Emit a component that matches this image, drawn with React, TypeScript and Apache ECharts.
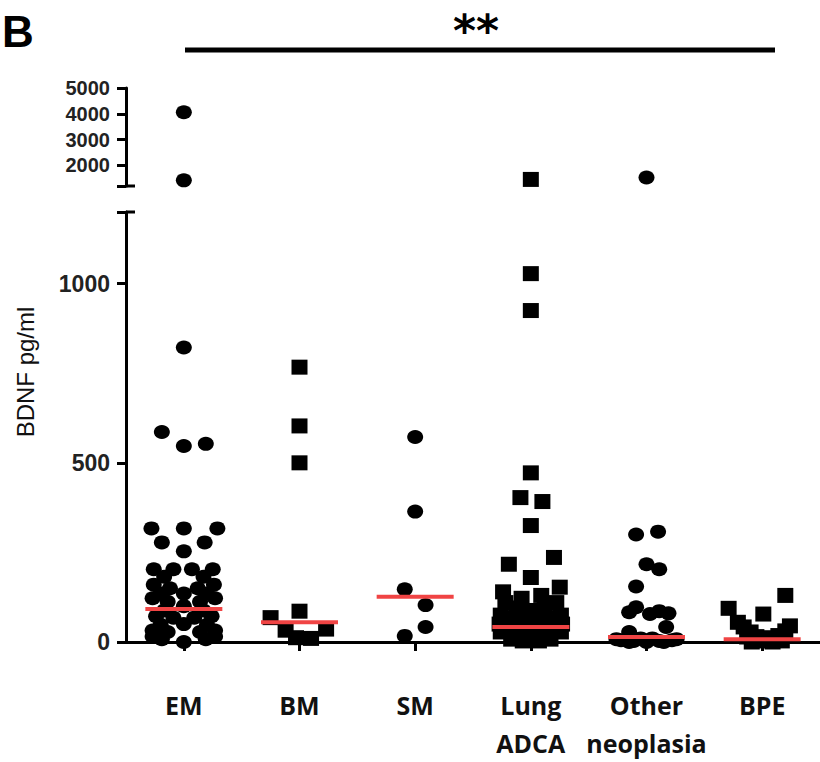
import React, { useEffect, useRef } from "react";
import * as echarts from "echarts";

// ---------- data ----------
const categories = ["EM", "BM", "SM", "Lung\nADCA", "Other\nneoplasia", "BPE"];
const groupSymbols = ["circle", "rect", "circle", "rect", "circle", "rect"];

// BDNF values (pg/ml) and horizontal jitter (fraction of a category width)
const emValues = [4060, 1420, 822, 586, 547, 553, 317, 317, 317, 278, 253, 278, 203, 203, 203, 203, 182, 182, 160, 150, 150, 160, 135, 135, 135, 122, 112, 100, 112, 122, 88, 88, 72, 68, 68, 72, 48, 48, 32, 28, 50, 28, 32, 15, 15, 8, 0, 8];
const emJitter = [0, 0, 0, -0.19, 0, 0.19, -0.28, 0, 0.29, -0.19, 0, 0.18, -0.26, -0.09, 0.07, 0.25, -0.17, 0.17, -0.26, -0.12, 0.12, 0.26, -0.2, 0, 0.2, -0.27, -0.14, 0, 0.14, 0.27, -0.17, 0.17, -0.24, -0.09, 0.09, 0.24, -0.2, 0.2, -0.27, -0.14, 0, 0.14, 0.27, -0.27, 0.27, -0.19, 0, 0.19];

const bmValues = [767, 603, 500, 86, 68, 33, 36, 12, 10];
const bmJitter = [0, 0, 0, 0, -0.25, -0.12, 0.23, -0.03, 0.1];

const smValues = [572, 364, 147, 103, 42, 17];
const smJitter = [0, 0, -0.09, 0.09, 0.09, -0.09];

const lungValues = [1455, 1028, 925, 472, 403, 392, 325, 217, 236, 180, 140, 122, 130, 153, 110, 110, 95, 95, 88, 75, 68, 62, 68, 75, 50, 45, 42, 42, 45, 50, 28, 22, 22, 28, 12, 8, 3, 3, 8];
const lungJitter = [0, 0, 0, 0, -0.09, 0.1, 0, -0.19, 0.2, 0, -0.24, -0.08, 0.09, 0.25, -0.22, 0.22, -0.12, 0.12, 0, -0.26, -0.13, 0, 0.13, 0.26, -0.27, -0.15, -0.05, 0.05, 0.15, 0.27, -0.26, -0.12, 0.12, 0.26, 0, -0.17, -0.07, 0.07, 0.17];

const otherValues = [1532, 300, 308, 217, 203, 155, 83, 97, 78, 86, 80, 42, 28, 5, 3, 2, 3, 5, 0, 0, 0, 8, 8, 10, 10];
const otherJitter = [0, -0.09, 0.1, 0, 0.11, -0.09, -0.15, -0.09, 0.03, 0.11, 0.19, 0.17, -0.15, -0.22, -0.11, 0, 0.11, 0.22, -0.15, 0, 0.15, -0.26, 0.26, -0.05, 0.05];

const bpeValues = [130, 94, 78, 55, 42, 28, 45, 31, 15, 12, 18, 14, 3, 0, 0, 3];
const bpeJitter = [0.2, -0.29, 0.01, -0.21, -0.16, -0.1, 0.24, 0.2, -0.05, 0.05, 0.14, -0.13, 0, -0.09, 0.09, 0.17];

const medians = [92, 55, 126, 42, 14, 8];

const upperTicks = [2000, 3000, 4000, 5000];
const lowerTicks = [0, 500, 1000];
const BREAK = 1200;
const TOP = 5000;

const groupValues = [emValues, bmValues, smValues, lungValues, otherValues, bpeValues];
const groupJitter = [emJitter, bmJitter, smJitter, lungJitter, otherJitter, bpeJitter];

// ---------- layout ----------
const LEFT = 126;
const WIDTH = 699;
const UP_TOP = 88;
const UP_BOTTOM = 186;
const LOW_TOP = 212;
const LOW_BOTTOM = 643;

export default function App() {
  const ref = useRef<HTMLDivElement>(null);
  useEffect(() => {
    if (!ref.current) return;
    const chart = echarts.init(ref.current, undefined, { renderer: "svg" });

    const series: any[] = [];
    groupValues.forEach((vals, g) => {
      const up: number[][] = [];
      const low: number[][] = [];
      vals.forEach((v, i) => {
        const pt = [g + groupJitter[g][i], v];
        if (v > BREAK) up.push(pt);
        else low.push(pt);
      });
      const sym = groupSymbols[g];
      const size = sym === "circle" ? [16, 14] : [16, 15];
      series.push({
        type: "scatter",
        xAxisIndex: 0,
        yAxisIndex: 0,
        data: up,
        symbol: sym,
        symbolSize: size,
        itemStyle: { color: "#000", opacity: 1 },
        clip: false,
        z: 3,
      });
      series.push({
        type: "scatter",
        xAxisIndex: 1,
        yAxisIndex: 1,
        data: low,
        symbol: sym,
        symbolSize: size,
        itemStyle: { color: "#000", opacity: 1 },
        clip: false,
        z: 3,
      });
    });
    series.push({
      type: "scatter",
      xAxisIndex: 1,
      yAxisIndex: 1,
      data: medians.map((m, i) => [i, m]),
      symbol: "rect",
      symbolSize: [77, 4],
      itemStyle: { color: "#f04444", opacity: 1 },
      clip: false,
      z: 5,
    });

    const axisLineStyle = { color: "#000", width: 3 };
    const plain = (v: number) => String(v);

    chart.setOption({
      animation: false,
      grid: [
        { left: LEFT, width: WIDTH, top: UP_TOP, height: UP_BOTTOM - UP_TOP },
        { left: LEFT, width: WIDTH, top: LOW_TOP, height: LOW_BOTTOM - LOW_TOP },
      ],
      xAxis: [
        { type: "value", gridIndex: 0, min: -0.5, max: 5.5, show: false, position: "bottom" },
        { type: "value", gridIndex: 1, min: -0.5, max: 5.5, show: false, position: "bottom" },
        {
          type: "category",
          gridIndex: 1,
          position: "bottom",
          data: categories,
          boundaryGap: true,
          axisLine: { show: true, onZero: false, lineStyle: axisLineStyle },
          axisTick: { show: true, alignWithLabel: true, length: 9, lineStyle: { width: 3, color: "#000" } },
          axisLabel: {
            margin: 44,
            fontFamily: "Open Sans",
            fontWeight: "bold",
            fontSize: 25,
            lineHeight: 38,
            color: "#111",
            interval: 0,
          },
          splitLine: { show: false },
        },
      ],
      yAxis: [
        {
          type: "value",
          gridIndex: 0,
          position: "left",
          min: BREAK,
          max: TOP,
          axisLine: { show: true, onZero: false, lineStyle: axisLineStyle },
          axisTick: { show: true, length: 9, lineStyle: { width: 3, color: "#000" }, customValues: [BREAK, ...upperTicks] },
          axisLabel: {
            customValues: upperTicks,
            formatter: plain,
            margin: 16,
            fontFamily: "Liberation Sans",
            fontWeight: "bold",
            fontSize: 20,
            color: "#222",
          },
          splitLine: { show: false },
        },
        {
          type: "value",
          gridIndex: 1,
          position: "left",
          min: 0,
          max: BREAK,
          axisLine: { show: true, onZero: false, lineStyle: axisLineStyle },
          axisTick: { show: true, length: 9, lineStyle: { width: 3, color: "#000" }, customValues: [...lowerTicks, BREAK] },
          axisLabel: {
            customValues: lowerTicks,
            formatter: plain,
            margin: 16,
            fontFamily: "Liberation Sans",
            fontWeight: "bold",
            fontSize: 23,
            color: "#222",
          },
          splitLine: { show: false },
        },
      ],
      graphic: [
        {
          type: "text",
          x: 2,
          y: 31,
          style: { text: "B", font: "bold 44px 'Liberation Sans'", fill: "#000", textAlign: "left", textVerticalAlign: "middle" },
        },
        {
          type: "text",
          x: 476,
          y: 30,
          style: { text: "**", font: "bold 44px 'DejaVu Sans'", fill: "#000", textAlign: "center", textVerticalAlign: "middle" },
        },
        {
          type: "line",
          shape: { x1: 185, y1: 50, x2: 775, y2: 50 },
          style: { stroke: "#000", lineWidth: 5 },
        },
        {
          type: "text",
          x: 25,
          y: 372,
          rotation: Math.PI / 2,
          style: { text: "BDNF pg/ml", font: "24px 'Liberation Sans'", fill: "#111", textAlign: "center", textVerticalAlign: "middle" },
        },
        {
          type: "line",
          shape: { x1: LEFT, y1: UP_BOTTOM, x2: LEFT + 9, y2: UP_BOTTOM },
          style: { stroke: "#000", lineWidth: 3 },
        },
        {
          type: "line",
          shape: { x1: LEFT, y1: LOW_TOP, x2: LEFT + 9, y2: LOW_TOP },
          style: { stroke: "#000", lineWidth: 3 },
        },
      ],
      series,
    });
    return () => chart.dispose();
  }, []);
  return (
    <div
      ref={ref}
      style={{ position: "absolute", left: 0, top: 0, width: 820, height: 762, background: "#fff" }}
    />
  );
}
